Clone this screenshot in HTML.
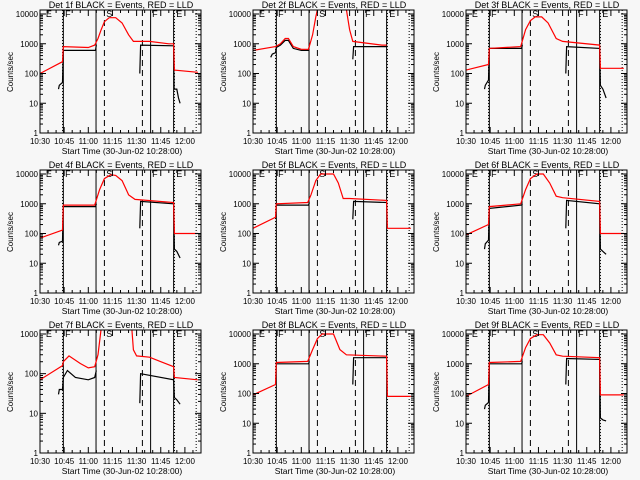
<!DOCTYPE html>
<html><head><meta charset="utf-8"><style>
body{margin:0;background:#f7f7f7;}
svg{display:block;font-family:"Liberation Sans",sans-serif;}
</style></head><body>
<svg id="c" width="640" height="480"></svg>
<script>
// times in minutes after 10:30
const detNames=["1f","2f","3f","4f","5f","6f","7f","8f","9f"];
const yMaxDecade=[4,4,4,4,4,4,3,4,4];
const xTickLabels=["10:30","10:45","11:00","11:15","11:30","11:45","12:00"];
const xTickMinutes=[0,15,30,45,60,75,90];
const solidLines=[14.5,34.8,68.7,83];
const dashedLines=[40,63.6];
const dottedLines=[14,83.5,97];
const red1T=[0,14,14.5,30,34,36,38,40,43,47,51,55,58,68,80,83,83.5,98];
const red1V=[100,250,800,750,900,1500,3000,5500,7500,7500,5000,2000,1200,1200,1000,1000,130,110];
const blk1T=[11.5,12,14,14.5,34.5,35,35.2,null,62,62.5,83,83.3,85,86,87];
const blk1V=[30,40,50,600,600,900,900,null,100,900,850,30,30,15,10];
const red2T=[0,14,17,20,22,25,30,34.5,37,39,40,58,60,62,80,83];
const red2V=[600,800,1000,1500,1500,800,650,650,2000,8000,14000,14000,3000,1200,900,900];
const blk2T=[11,12,14,14.5,17,20,22,25,30,34.5,35,null,62,62.5,83];
const blk2V=[350,450,500,750,900,1300,1300,700,600,600,900,null,300,800,800];
const red3T=[0,14,14.5,34,37,40,43,47,51,56,60,83,83.5,98];
const red3V=[130,200,700,800,3000,6000,8000,8000,5000,1500,1200,900,150,150];
const blk3T=[11.5,12,14,14.5,34.5,35,null,62,62.5,83,83.5,85,87];
const blk3V=[30,40,60,700,700,900,null,100,800,700,40,30,15];
const red4T=[0,14,14.5,34,37,40,44,47,51,55,59,83,83.5,98];
const red4V=[70,130,900,900,3000,7000,9500,9000,6000,2000,1400,1100,100,100];
const blk4T=[11.5,12,14,14.5,34.5,35,null,62,62.5,83,83.5,85,87];
const blk4V=[40,50,55,800,800,1000,null,150,1200,1000,30,25,15];
const red5T=[0,14,14.5,34,36,39,42,50,53,56,60,83,83.5,98];
const red5V=[150,350,1000,1100,2000,6000,10000,10000,5000,1500,1500,1300,150,150];
const blk5T=[14.5,34.5,35,null,62,62.5,83];
const blk5V=[900,900,1100,null,300,1200,1100];
const red6T=[0,14,14.5,34,37,40,44,48,52,56,60,83,83.5,98];
const red6V=[90,200,800,1000,3000,7000,10000,10000,5000,1800,1600,1200,100,100];
const blk6T=[11.5,12,14,14.5,34.5,35,null,62,62.5,83,83.5,85,87];
const blk6V=[30,45,60,700,900,1000,null,150,1300,1000,30,25,20];
const red7T=[0,14,14.5,18,25,30,34,36,38,57,58,60,68,75,83,83.5,98];
const red7V=[70,160,200,280,180,140,150,300,1400,1400,400,280,260,200,150,80,70];
const blk7T=[11.5,12,14,14.5,17,22,30,34,35,null,62,62.5,83,83.5,85,87];
const blk7V=[30,40,40,80,120,80,70,80,120,null,18,100,70,25,22,17];
const red8T=[0,14,14.5,34,37,40,43,50,54,58,83,83.5,98];
const red8V=[90,200,1100,1200,3000,7000,10000,10000,3000,2000,1800,80,80];
const blk8T=[14.5,34.5,35,null,62,62.5,83];
const blk8V=[1000,1000,1200,null,200,1600,1600];
const red9T=[0,14,14.5,34,37,40,44,48,52,56,60,83,83.5,98];
const red9V=[80,200,1100,1200,3500,7000,9500,9500,5000,2000,1800,1600,90,90];
const blk9T=[11.5,12,14,14.5,34.5,35,null,62,62.5,83,83.5,85,87];
const blk9V=[30,40,50,1000,1000,1200,null,200,1500,1400,15,13,12];
const redT=[red1T,red2T,red3T,red4T,red5T,red6T,red7T,red8T,red9T];
const redV=[red1V,red2V,red3V,red4V,red5V,red6V,red7V,red8V,red9V];
const blkT=[blk1T,blk2T,blk3T,blk4T,blk5T,blk6T,blk7T,blk8T,blk9T];
const blkV=[blk1V,blk2V,blk3V,blk4V,blk5V,blk6V,blk7V,blk8V,blk9V];

const svg=document.getElementById('c');
const NS="http://www.w3.org/2000/svg";
function mk(tag,attrs,parent){const e=document.createElementNS(NS,tag);for(const k in attrs)e.setAttribute(k,attrs[k]);parent.appendChild(e);return e;}
for(let p=0;p<9;p++){
  const ox=(p%3)*213, oy=Math.floor(p/3)*160;
  const g=mk('g',{},svg);
  
  
  const L=ox+40,R=ox+201,T=oy+10,B=oy+133;
  const top=14, dec=yMaxDecade[p], per=(133-top)/dec;
  const yv=v=>oy+133-per*Math.log10(v);
  const xv=m=>L+m*1.61;
  const clipId='cl'+p;
  const cp=mk('clipPath',{id:clipId},g);mk('rect',{x:L,y:T,width:R-L,height:B-T},cp);
  solidLines.forEach(m=>{const l=mk('line',{x1:xv(m),x2:xv(m),y1:T,y2:B,stroke:'#000','stroke-width':1},g);});
  dashedLines.forEach(m=>{const l=mk('line',{x1:xv(m),x2:xv(m),y1:T,y2:B,stroke:'#000','stroke-width':1,'stroke-dasharray':'6,4'},g);});
  dottedLines.forEach(m=>{const l=mk('line',{x1:xv(m),x2:xv(m),y1:T,y2:B,stroke:'#000','stroke-width':1,'stroke-dasharray':'1,2'},g);});
  [["E",3],["F",15],["S",40.5],["F",69],["E",84]].forEach(([t,m])=>{const tx=mk('text',{x:xv(m)+1,y:T+7,'font-size':9,fill:'#000'},g);tx.textContent=t;});
  function series(ts,vs,col,name){
    let d='',pen=false;
    for(let i=0;i<ts.length;i++){
      if(ts[i]===null||vs[i]===null){pen=false;continue;}
      d+=(pen?'L':'M')+xv(ts[i]).toFixed(1)+','+yv(vs[i]).toFixed(1);pen=true;
    }
    const pth=mk('path',{d:d,fill:'none',stroke:col,'stroke-width':1.2,'clip-path':'url(#'+clipId+')'},g);
    
    
  }
  series(blkT[p],blkV[p],'#000','events-series');
  series(redT[p],redV[p],'#f00','lld-series');
  const fr=mk('rect',{x:L,y:T,width:R-L,height:B-T,fill:'none',stroke:'#000','stroke-width':1},g);
  
  for(let d=0;d<=dec;d++){
    const y=yv(Math.pow(10,d));
    mk('line',{x1:L,x2:L+6,y1:y,y2:y,stroke:'#000'},g);
    mk('line',{x1:R,x2:R-6,y1:y,y2:y,stroke:'#000'},g);
    const t=mk('text',{x:L-2,y:y+3,'font-size':8,'text-anchor':'end',fill:'#000'},g);
    t.textContent=String(Math.pow(10,d));
    
    if(d<dec)for(let k=2;k<10;k++){const yy=yv(k*Math.pow(10,d));mk('line',{x1:L,x2:L+3,y1:yy,y2:yy,stroke:'#000'},g);mk('line',{x1:R,x2:R-3,y1:yy,y2:yy,stroke:'#000'},g);}
  }
  for(let m=0;m<=100;m+=5){const x=xv(m);const len=(m%15===0)?6:3;mk('line',{x1:x,x2:x,y1:B,y2:B-len,stroke:'#000'},g);mk('line',{x1:x,x2:x,y1:T,y2:T+len,stroke:'#000'},g);}
  xTickMinutes.forEach((m,i)=>{const t=mk('text',{x:xv(m),y:B+11,'font-size':8,'text-anchor':'middle',fill:'#000'},g);t.textContent=xTickLabels[i];});
  const xt=mk('text',{x:ox+122,y:oy+154,'font-size':8.5,'text-anchor':'middle',fill:'#000'},g);
  xt.textContent='Start Time (30-Jun-02 10:28:00)';
  
  const yt=mk('text',{x:0,y:0,'font-size':8,'text-anchor':'middle',fill:'#000',transform:'translate('+(ox+13)+','+(oy+72)+') rotate(-90)'},g);
  yt.textContent='Counts/sec';
  
  const tt=mk('text',{x:ox+121,y:oy+8,'font-size':9,'text-anchor':'middle',fill:'#000'},g);
  tt.textContent='Det '+detNames[p]+' BLACK = Events, RED = LLD';
  
}
</script>
</body></html>
